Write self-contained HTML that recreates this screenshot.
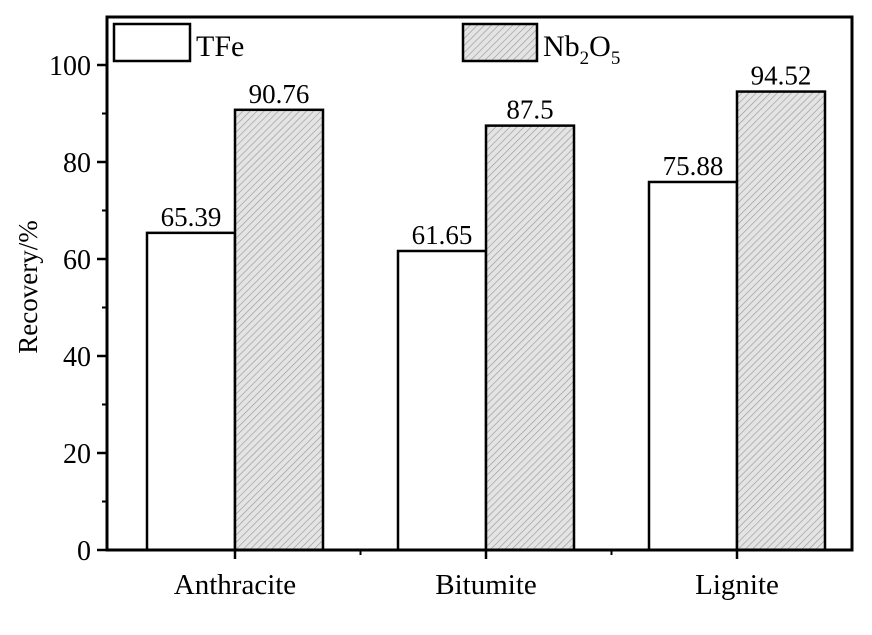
<!DOCTYPE html>
<html><head><meta charset="utf-8"><style>
body{margin:0;background:#fff}
svg{display:block;font-family:"Liberation Serif",serif}
</style></head><body>
<svg width="872" height="635">
<defs><pattern id="hatch" patternUnits="userSpaceOnUse" width="5" height="5" patternTransform="rotate(45)">
<rect width="5" height="5" fill="#e4e4e4"/><line x1="0" y1="0" x2="0" y2="5" stroke="#9a9a9a" stroke-width="1.3"/></pattern></defs>
<g id="plot"></g>
</svg>
<script>
const categories=["Anthracite","Bitumite","Lignite"];
const tfe=[65.39,61.65,75.88];
const nb=[90.76,87.5,94.52];
const tfeLabels=["65.39","61.65","75.88"];
const nbLabels=["90.76","87.5","94.52"];
const yTicks=[0,20,40,60,80,100];
const L=107,R=852,T=17,B=550;
const y=v=>B-v*4.85;
const cx=i=>235+i*251;
const bw=88;
const g=document.getElementById('plot');
const NS='http://www.w3.org/2000/svg';
function mk(tag,a,txt){const e=document.createElementNS(NS,tag);for(const k in a)e.setAttribute(k,a[k]);if(txt!=null)e.textContent=txt;g.appendChild(e);return e;}
categories.forEach((c,i)=>{
 const b1=mk('rect',{x:cx(i)-bw,y:y(tfe[i]),width:bw,height:B-y(tfe[i]),fill:'#fff',stroke:'#000','stroke-width':2.5});
 
 
 const b2=mk('rect',{x:cx(i),y:y(nb[i]),width:bw,height:B-y(nb[i]),fill:'url(#hatch)',stroke:'#000','stroke-width':2.5});
 
 
 const l1=mk('text',{x:cx(i)-bw/2,y:y(tfe[i])-7,'text-anchor':'middle','font-size':27},tfeLabels[i]);
 
 
 const l2=mk('text',{x:cx(i)+bw/2,y:y(nb[i])-7,'text-anchor':'middle','font-size':27},nbLabels[i]);
 
 
 const xl=mk('text',{x:cx(i),y:594,'text-anchor':'middle','font-size':29},c);
 
 
 mk('line',{x1:cx(i),y1:B,x2:cx(i),y2:B+9,stroke:'#000','stroke-width':2.5});
 if(i<categories.length-1)mk('line',{x1:cx(i)+125.5,y1:B,x2:cx(i)+125.5,y2:B+5,stroke:'#000','stroke-width':2});
});
yTicks.forEach(v=>{
 mk('line',{x1:L-10,y1:y(v),x2:L,y2:y(v),stroke:'#000','stroke-width':2.5});
 if(v<100)mk('line',{x1:L-5,y1:y(v+10),x2:L,y2:y(v+10),stroke:'#000','stroke-width':2});
 const t=mk('text',{x:L-16,y:y(v)+10,'text-anchor':'end','font-size':28},v);
 
 
});
const fr=mk('rect',{x:L,y:T,width:R-L,height:B-T,fill:'none',stroke:'#000','stroke-width':3});


const yt=mk('text',{x:0,y:0,transform:'translate(37,287) rotate(-90)','text-anchor':'middle','font-size':27},'Recovery/%');


const lb1=mk('rect',{x:114,y:24,width:76,height:37,fill:'#fff',stroke:'#000','stroke-width':2.5});


const lt1=mk('text',{x:196,y:56,'font-size':30},'TFe');


const lb2=mk('rect',{x:463,y:24,width:74,height:37,fill:'url(#hatch)',stroke:'#000','stroke-width':2.5});


const lt2=mk('text',{x:543,y:56,'font-size':30});


lt2.innerHTML='Nb<tspan font-size="19" dy="8">2</tspan><tspan dy="-8">O</tspan><tspan font-size="19" dy="8">5</tspan>';
</script>
</body></html>
